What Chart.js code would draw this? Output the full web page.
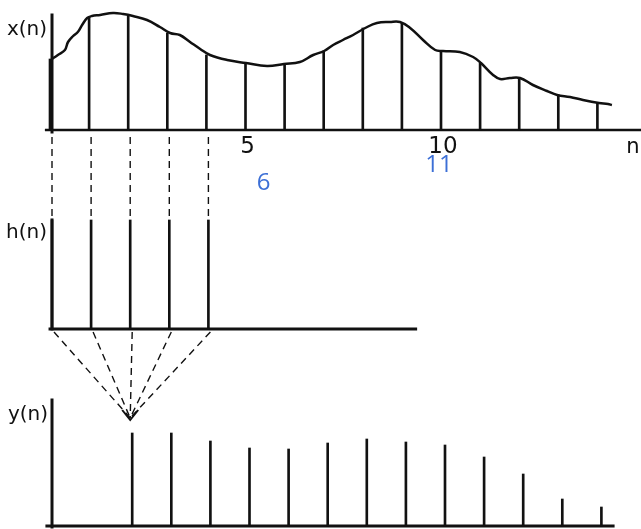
<!DOCTYPE html>
<html>
<head>
<meta charset="utf-8">
<script src="https://cdn.jsdelivr.net/npm/chart.js@4.4.0/dist/chart.umd.min.js"></script>
<style>
  html, body { margin: 0; padding: 0; background: #fff; }
  #wrap { position: relative; width: 641px; height: 529px; }
</style>
</head>
<body>
<div id="wrap"><canvas id="conv" width="641" height="529"></canvas></div>
<script>
// input samples x(n)
var nInput = [0, 1, 2, 3, 4, 5, 6, 7, 8, 9, 10, 11, 12, 13, 14];
var xSamples = [7.1, 11.3, 11.4, 9.7, 7.5, 6.7, 6.5, 7.9, 10.2, 10.7, 7.9, 6.7, 5.2, 3.5, 2.7];

// continuous envelope drawn over the input stems
var envT = [0, 0.15, 0.33, 0.41, 0.54, 0.66, 0.77, 0.9, 1.02, 1.23, 1.56, 1.82, 2.07, 2.43,
  2.76, 3.02, 3.27, 3.53, 3.79, 4.04, 4.48, 4.96, 5.5, 5.93, 6.34, 6.68, 6.96, 7.19, 7.44,
  7.7, 8.01, 8.31, 8.64, 8.9, 9.16, 9.49, 9.8, 10.0, 10.43, 10.77, 10.97, 11.28, 11.46,
  11.71, 11.97, 12.3, 12.66, 12.92, 13.25, 13.58, 13.99, 14.22, 14.32];
var envX = [7.1, 7.5, 8.0, 8.8, 9.4, 9.8, 10.5, 11.2, 11.4, 11.5, 11.7, 11.6, 11.4, 11.0,
  10.3, 9.7, 9.5, 8.8, 8.1, 7.5, 7.0, 6.7, 6.4, 6.6, 6.8, 7.5, 7.9, 8.5, 9.0,
  9.5, 10.2, 10.7, 10.8, 10.8, 10.2, 9.0, 8.0, 7.9, 7.8, 7.3, 6.7, 5.5, 5.1,
  5.2, 5.2, 4.5, 3.9, 3.5, 3.3, 3.0, 2.7, 2.6, 2.5];

// filter h(n): five equal taps
var nFilter = [0, 1, 2, 3, 4];
var hSamples = [1, 1, 1, 1, 1];

// output samples y(n)
var nOutput = [2, 3, 4, 5, 6, 7, 8, 9, 10, 11, 12, 13, 14];
var ySamples = [9.3, 9.3, 8.5, 7.8, 7.7, 8.3, 8.7, 8.4, 8.1, 6.9, 5.2, 2.7, 1.9];

// n axis labels and their renumbered counterparts
var tickValues = [5, 10];
var tickLabels = ["5", "10"];
var renumbered = ["6", "11"];

var INK = "#111";
var BLUE = "#3c6fd6";

function pts(xs, ys) {
  return xs.map(function (v, i) { return { x: v, y: ys[i] }; });
}

function seg(x0, y0, x1, y1) {
  return [{ x: x0, y: y0 }, { x: x1, y: y1 }];
}

function stems(data, axis, width) {
  return {
    type: "bar", data: data, yAxisID: axis,
    backgroundColor: INK, borderWidth: 0, barThickness: width
  };
}

function rule(data, axis, width) {
  return {
    type: "line", data: data, yAxisID: axis,
    borderColor: INK, borderWidth: width, pointRadius: 0, borderCapStyle: "square"
  };
}

// dashed projections, the fan into y(2) and all the text
var annotate = {
  id: "annotate",
  afterDatasetsDraw: function (chart) {
    var ctx = chart.ctx;
    var sx = chart.scales.x, sX = chart.scales.yx, sH = chart.scales.yh, sY = chart.scales.yy;
    ctx.save();
    ctx.strokeStyle = INK;
    ctx.lineWidth = 1.4;
    ctx.setLineDash([7, 5]);

    nFilter.forEach(function (n, i) {
      var px = sx.getPixelForValue(n);
      ctx.beginPath();
      ctx.moveTo(px, sX.getPixelForValue(0) + 7);
      ctx.lineTo(px, sH.getPixelForValue(hSamples[i]));
      ctx.stroke();
    });

    var tipX = sx.getPixelForValue(nOutput[0]);
    var tipY = sY.getPixelForValue(ySamples[0]) - 13;
    nFilter.forEach(function (n) {
      ctx.beginPath();
      ctx.moveTo(sx.getPixelForValue(n) + 2, sH.getPixelForValue(0) + 3);
      ctx.lineTo(tipX, tipY - 2);
      ctx.stroke();
    });

    ctx.setLineDash([]);
    ctx.lineWidth = 2;
    ctx.beginPath();
    ctx.moveTo(tipX - 8, tipY - 10);
    ctx.lineTo(tipX, tipY);
    ctx.lineTo(tipX + 8, tipY - 10);
    ctx.stroke();

    var ax = sx.getPixelForValue(0);
    ctx.fillStyle = INK;
    ctx.font = "20px 'DejaVu Sans', sans-serif";
    ctx.textAlign = "right";
    ctx.textBaseline = "alphabetic";
    ctx.fillText("x(n)", ax - 5, 35);
    ctx.fillText("h(n)", ax - 5, 238);
    ctx.fillText("y(n)", ax - 4, 420);

    var base = sX.getPixelForValue(0);
    ctx.textAlign = "center";
    ctx.font = "23px 'DejaVu Sans', sans-serif";
    tickValues.forEach(function (v, i) {
      ctx.fillText(tickLabels[i], sx.getPixelForValue(v), base + 23);
    });
    ctx.font = "21px 'DejaVu Sans', sans-serif";
    ctx.fillText("n", 633, base + 23);

    ctx.fillStyle = BLUE;
    ctx.font = "24px 'Open Sans', 'Noto Sans', sans-serif";
    ctx.fillText(renumbered[0], sx.getPixelForValue(tickValues[0]) + 16, base + 60);
    ctx.fillText(renumbered[1], sx.getPixelForValue(tickValues[1]) - 4, base + 42);
    ctx.restore();
  }
};

var hidden = { display: false };

new Chart(document.getElementById("conv").getContext("2d"), {
  type: "bar",
  data: {
    datasets: [
      // x(n) panel
      {
        type: "line", data: pts(envT, envX), yAxisID: "yx",
        borderColor: INK, borderWidth: 2.5, pointRadius: 0, tension: 0.4
      },
      stems(pts(nInput, xSamples), "yx", 2),
      rule(seg(-0.15, 0, 15.1, 0), "yx", 2.5),
      rule(seg(0, -0.2, 0, 11.5), "yx", 3),
      // h(n) panel
      stems(pts(nFilter, hSamples), "yh", 2),
      rule(seg(-0.05, 0, 9.3, 0), "yh", 3),
      rule(seg(0, 0, 0, 1), "yh", 3),
      // y(n) panel
      stems(pts(nOutput, ySamples), "yy", 2),
      rule(seg(-0.13, 0, 14.35, 0), "yy", 3),
      rule(seg(0, -0.1, 0, 12.6), "yy", 3)
    ]
  },
  options: {
    responsive: false,
    animation: false,
    events: [],
    layout: { padding: 0 },
    plugins: { legend: hidden, tooltip: { enabled: false } },
    scales: {
      x: { type: "linear", min: -1.33, max: 15.064, offset: false, display: false },
      yx: { type: "linear", min: -39.9, max: 13.0, display: false },
      yh: { type: "linear", min: -1.835, max: 3.018, display: false },
      yy: { type: "linear", min: -0.3, max: 52.6, display: false }
    }
  },
  plugins: [annotate]
});
</script>
</body>
</html>
